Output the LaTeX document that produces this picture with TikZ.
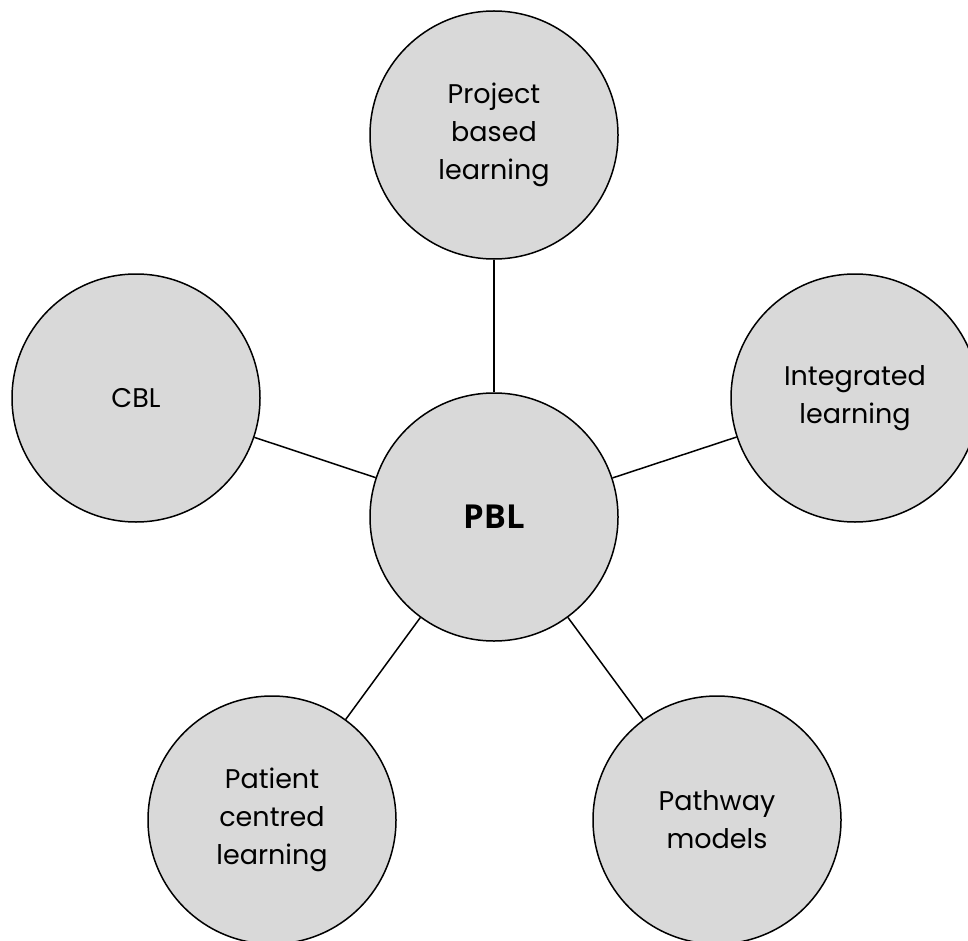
\documentclass[tikz,border=0pt]{standalone}
\usepackage{fontspec}
\setmainfont{Poppins}
\newfontfamily\pblfont{Open Sans}
\begin{document}
\begin{tikzpicture}[x=1pt,y=-1pt,
  bub/.style={circle, draw=black, line width=1.5pt, fill=black!15,
    minimum size=248pt, inner sep=0pt, align=center,
    font=\fontsize{27}{38}\selectfont},
  link/.style={draw=black, line width=1.5pt}]
\useasboundingbox (0,0) rectangle (968,941);
\clip (0,0) rectangle (968,941);
\node[bub] (pbl) at (494,517) {\pblfont\fontsize{33}{38}\selectfont\bfseries PBL};
\node[bub] (pjt) at (494,135) {Project\\based\\learning};
\node[bub] (cbl) at (136,398) {CBL};
\node[bub] (int) at (855,398) {Integrated\\learning};
\node[bub] (pat) at (272,820) {Patient\\centred\\learning};
\node[bub] (pth) at (717,820) {Pathway\\models};
\draw[link] (pbl) -- (pjt);
\draw[link] (pbl) -- (cbl);
\draw[link] (pbl) -- (int);
\draw[link] (pbl) -- (pat);
\draw[link] (pbl) -- (pth);
\end{tikzpicture}
\end{document}
